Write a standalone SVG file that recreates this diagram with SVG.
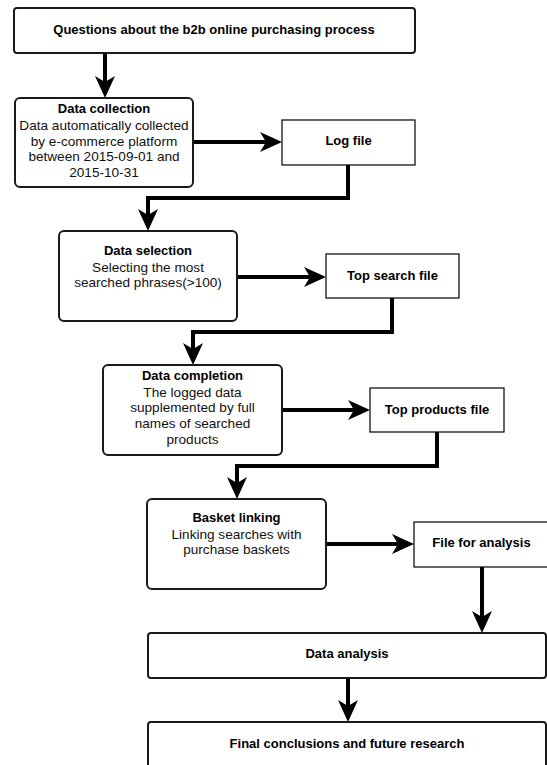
<svg xmlns="http://www.w3.org/2000/svg" width="547" height="765" viewBox="0 0 547 765">
<style>
.bg{fill:#fff}
.proc{fill:#fff;stroke:#1a1a1a;stroke-width:2}
.wide{fill:#fff;stroke:#1a1a1a;stroke-width:2}
.file{fill:#fff;stroke:#000;stroke-width:1.2}
.t{font-family:"Liberation Sans",Arial,sans-serif;font-size:13px;font-weight:bold;fill:#000;text-anchor:middle}
.b{font-family:"Liberation Sans",Arial,sans-serif;font-size:13.6px;fill:#111;text-anchor:middle}
.c{fill:none;stroke:#000;stroke-width:4;stroke-linejoin:miter}
</style>
<defs>
<marker id="arr" markerUnits="userSpaceOnUse" viewBox="0 0 22 20" markerWidth="22" markerHeight="20" refX="6" refY="10" orient="auto">
<path d="M0,0 L22,10 L0,20 L6,10 Z" fill="#000"/>
</marker>
</defs>
<rect class="bg" x="0" y="0" width="547" height="765"/>
<g id="connectors">
<path class="c" d="M105,53 V82" marker-end="url(#arr)"/>
<path class="c" d="M193,142 H266" marker-end="url(#arr)"/>
<path class="c" d="M348,165 V198 H148 V215" marker-end="url(#arr)"/>
<path class="c" d="M237,277 H310" marker-end="url(#arr)"/>
<path class="c" d="M392,298 V332 H193 V349" marker-end="url(#arr)"/>
<path class="c" d="M282,410 H354" marker-end="url(#arr)"/>
<path class="c" d="M437,432 V466 H237 V483" marker-end="url(#arr)"/>
<path class="c" d="M326,544 H398" marker-end="url(#arr)"/>
<path class="c" d="M482,567 V617" marker-end="url(#arr)"/>
<path class="c" d="M348,678 V706" marker-end="url(#arr)"/>
</g>
<g id="questions">
<rect class="wide" x="14" y="8" width="401" height="45" rx="3"/>
<text class="t" x="214" y="34">Questions about the b2b online purchasing process</text>
</g>
<g id="data-collection">
<rect class="proc" x="15" y="98" width="178" height="89" rx="5"/>
<text class="t" x="104" y="113">Data collection</text>
<text class="b" x="104" y="130">Data automatically collected</text>
<text class="b" x="104" y="145.5">by e-commerce platform</text>
<text class="b" x="104" y="161">between 2015-09-01 and</text>
<text class="b" x="104" y="176.5">2015-10-31</text>
</g>
<g id="log-file">
<rect class="file" x="282" y="120" width="133" height="45"/>
<text class="t" x="348.5" y="145">Log file</text>
</g>
<g id="data-selection">
<rect class="proc" x="59" y="231" width="178" height="90" rx="5"/>
<text class="t" x="148" y="254.5">Data selection</text>
<text class="b" x="148" y="271.5">Selecting the most</text>
<text class="b" x="148" y="286.5">searched phrases(&gt;100)</text>
</g>
<g id="top-search-file">
<rect class="file" x="326" y="254" width="133" height="44"/>
<text class="t" x="392.5" y="279.5">Top search file</text>
</g>
<g id="data-completion">
<rect class="proc" x="103" y="365" width="179" height="90" rx="5"/>
<text class="t" x="192.5" y="380">Data completion</text>
<text class="b" x="192.5" y="396.5">The logged data</text>
<text class="b" x="192.5" y="412.3">supplemented by full</text>
<text class="b" x="192.5" y="428">names of searched</text>
<text class="b" x="192.5" y="443.7">products</text>
</g>
<g id="top-products-file">
<rect class="file" x="370" y="388" width="134" height="44"/>
<text class="t" x="437" y="413.5">Top products file</text>
</g>
<g id="basket-linking">
<rect class="proc" x="147" y="499" width="179" height="90" rx="5"/>
<text class="t" x="236.5" y="522.3">Basket linking</text>
<text class="b" x="236.5" y="539">Linking searches with</text>
<text class="b" x="236.5" y="554.3">purchase baskets</text>
</g>
<g id="file-for-analysis">
<rect class="file" x="414" y="522" width="134" height="45"/>
<text class="t" x="481.5" y="547">File for analysis</text>
</g>
<g id="data-analysis">
<rect class="wide" x="148" y="633" width="398" height="45" rx="3"/>
<text class="t" x="347" y="658">Data analysis</text>
</g>
<g id="final-conclusions">
<rect class="wide" x="148" y="722" width="398" height="46" rx="3"/>
<text class="t" x="347" y="748">Final conclusions and future research</text>
</g>
</svg>
